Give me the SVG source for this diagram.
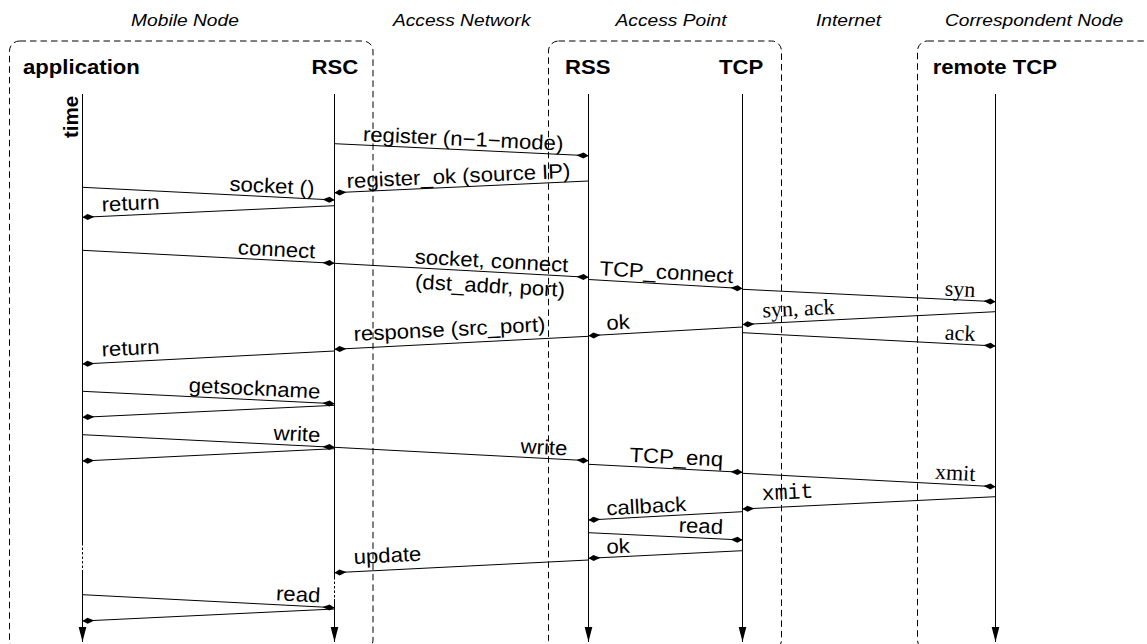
<svg xmlns="http://www.w3.org/2000/svg" width="1147" height="644" viewBox="0 0 1147 644">
<style>
.hdr{font-family:"Liberation Sans",Arial,sans-serif;font-style:italic;font-size:17px;fill:#000;text-anchor:middle}
.ent{font-family:"Liberation Sans",Arial,sans-serif;font-weight:bold;font-size:20.5px;fill:#000}
.lbl{font-family:"Liberation Sans",Arial,sans-serif;font-size:20.5px;fill:#000}
.ser{font-family:"Liberation Serif","Times New Roman",serif;font-size:22px;fill:#000}
.mono{font-family:"Liberation Mono","Courier New",monospace;font-size:21.5px;fill:#000}
.box{fill:none;stroke:#000;stroke-width:1;stroke-dasharray:6.5 4}
.life{fill:none;stroke:#000;stroke-width:1}
.dash{fill:none;stroke:#000;stroke-width:1;stroke-dasharray:2.5 2}
.msg{fill:none;stroke:#000;stroke-width:1;marker-end:url(#kite)}
.end{text-anchor:end}
</style>
<defs>
<marker id="kite" viewBox="-13 -4 14 8" refX="0" refY="0" markerWidth="14" markerHeight="8" markerUnits="userSpaceOnUse" orient="auto">
<path d="M0,0 L-5,-3 L-12,0 L-5,3 Z" fill="#000"/>
</marker>
<marker id="tri" viewBox="-16 -5 17 10" refX="0" refY="0" markerWidth="17" markerHeight="10" markerUnits="userSpaceOnUse" orient="auto">
<path d="M0,0 L-15,-3.8 L-15,3.8 Z" fill="#000"/>
</marker>
</defs>

<g id="headers">
<text class="hdr" transform="translate(185,25.5) scale(1.13,1)">Mobile Node</text>
<text class="hdr" transform="translate(461.7,25.5) scale(1.13,1)">Access Network</text>
<text class="hdr" transform="translate(671,25.5) scale(1.13,1)">Access Point</text>
<text class="hdr" transform="translate(848.5,25.5) scale(1.13,1)">Internet</text>
<text class="hdr" transform="translate(1034,25.5) scale(1.13,1)">Correspondent Node</text>
</g>

<g id="mobile-node">
<rect class="box" x="9.5" y="41" width="363.5" height="609" rx="10" ry="10"/>
<g id="application">
<text class="ent" transform="translate(23,73.5) scale(1.08,1)">application</text>
<text class="ent" transform="translate(77.5,138) rotate(-90)">time</text>
<path class="life" d="M82.5,94 V543"/>
<path class="dash" d="M82.5,543 V572"/>
<path class="life" d="M82.5,572 V642" marker-end="url(#tri)"/>
</g>
<g id="rsc">
<text class="ent end" transform="translate(358.3,73.5) scale(1.08,1)">RSC</text>
<path class="life" d="M334.5,94 V577"/>
<path class="dash" d="M334.5,577 V599"/>
<path class="life" d="M334.5,599 V642" marker-end="url(#tri)"/>
</g>
</g>

<g id="access-point">
<rect class="box" x="548.5" y="41" width="233" height="609" rx="10" ry="10"/>
<g id="rss">
<text class="ent" transform="translate(565,73.5) scale(1.08,1)">RSS</text>
<path class="life" d="M588.5,94 V642" marker-end="url(#tri)"/>
</g>
<g id="tcp">
<text class="ent end" transform="translate(763.3,73.5) scale(1.08,1)">TCP</text>
<path class="life" d="M742.5,94 V642" marker-end="url(#tri)"/>
</g>
</g>

<g id="correspondent-node">
<rect class="box" x="917.5" y="41" width="236" height="609" rx="10" ry="10"/>
<g id="remote-tcp">
<text class="ent" transform="translate(932.7,73.5) scale(1.08,1)">remote TCP</text>
<path class="life" d="M995.5,94 V642" marker-end="url(#tri)"/>
</g>
</g>

<g id="connectors">
<path class="msg" d="M334.5,143.7 L588.5,155.7"/>
<path class="msg" d="M588.5,181 L334.5,192.7"/>
<path class="msg" d="M82.5,187.3 L334.5,200"/>
<path class="msg" d="M334.5,205.7 L82.5,217.3"/>
<path class="msg" d="M82.5,250.3 L334.5,263.3"/>
<path class="msg" d="M334.5,263.3 L588.5,277.3"/>
<path class="msg" d="M588.5,279.5 L742.5,288.5"/>
<path class="msg" d="M742.5,289.3 L995.5,301.7"/>
<path class="msg" d="M995.5,311.7 L742.5,324.5"/>
<path class="msg" d="M742.5,332.7 L995.5,346"/>
<path class="msg" d="M742.5,327 L588.5,335.7"/>
<path class="msg" d="M588.5,336.3 L334.5,349.3"/>
<path class="msg" d="M334.5,351 L82.5,364"/>
<path class="msg" d="M82.5,391.3 L334.5,403.7"/>
<path class="msg" d="M334.5,405.3 L82.5,417.3"/>
<path class="msg" d="M82.5,434.7 L334.5,447.3"/>
<path class="msg" d="M334.5,448.7 L82.5,461"/>
<path class="msg" d="M334.5,447.3 L588.5,460.7"/>
<path class="msg" d="M588.5,464.3 L742.5,472.3"/>
<path class="msg" d="M742.5,473.3 L995.5,486.7"/>
<path class="msg" d="M995.5,496.7 L742.5,509"/>
<path class="msg" d="M742.5,511.7 L588.5,520"/>
<path class="msg" d="M588.5,532.7 L742.5,540"/>
<path class="msg" d="M742.5,550.7 L588.5,558.3"/>
<path class="msg" d="M588.5,560 L334.5,572.7"/>
<path class="msg" d="M82.5,594.7 L334.5,607.7"/>
<path class="msg" d="M334.5,609 L82.5,621"/>

<g id="labels">
<text class="lbl end" transform="translate(563,150.5) rotate(2.70) scale(1.08,1)">register (n−1−mode)</text>
<text class="lbl" transform="translate(347,188) rotate(-2.64) scale(1.08,1)">register_ok (source IP)</text>
<text class="lbl end" transform="translate(314,195) rotate(2.89) scale(1.08,1)">socket ()</text>
<text class="lbl" transform="translate(102,211.5) rotate(-2.64) scale(1.08,1)">return</text>
<text class="lbl end" transform="translate(315,258.3) rotate(2.95) scale(1.08,1)">connect</text>
<g transform="translate(568,272) rotate(3.15)">
<text class="lbl end" transform="scale(1.08,1)">socket, connect</text>
<text class="lbl end" transform="translate(-2,25) scale(1.08,1)">(dst_addr, port)</text>
</g>
<text class="lbl end" transform="translate(733,283) rotate(3.35) scale(1.08,1)">TCP_connect</text>
<text class="ser end" transform="translate(975,297) rotate(2.81)">syn</text>
<text class="ser" transform="translate(762.7,317.5) rotate(-2.90)">syn, ack</text>
<text class="ser end" transform="translate(975,341) rotate(3.01)">ack</text>
<text class="lbl" transform="translate(606.7,330) rotate(-3.23) scale(1.08,1)">ok</text>
<text class="lbl" transform="translate(354,341) rotate(-2.93) scale(1.08,1)">response (src_port)</text>
<text class="lbl" transform="translate(102,356.5) rotate(-2.95) scale(1.08,1)">return</text>
<text class="lbl end" transform="translate(320,398.5) rotate(2.82) scale(1.08,1)">getsockname</text>
<text class="lbl end" transform="translate(320,442) rotate(2.86) scale(1.08,1)">write</text>
<text class="lbl end" transform="translate(567,455.5) rotate(3.02) scale(1.08,1)">write</text>
<text class="lbl end" transform="translate(722.7,466.5) rotate(2.97) scale(1.08,1)">TCP_enq</text>
<text class="ser end" transform="translate(975,481) rotate(3.03)">xmit</text>
<text class="mono" transform="translate(762,500.2) rotate(-2.78)">xmit</text>
<text class="lbl" transform="translate(606.7,515.3) rotate(-3.09) scale(1.08,1)">callback</text>
<text class="lbl end" transform="translate(722.7,534) rotate(2.71) scale(1.08,1)">read</text>
<text class="lbl" transform="translate(606.7,553.8) rotate(-2.83) scale(1.08,1)">ok</text>
<text class="lbl" transform="translate(354,564) rotate(-2.86) scale(1.08,1)">update</text>
<text class="lbl end" transform="translate(320,602.5) rotate(2.95) scale(1.08,1)">read</text>
</g>
</g>
</svg>
